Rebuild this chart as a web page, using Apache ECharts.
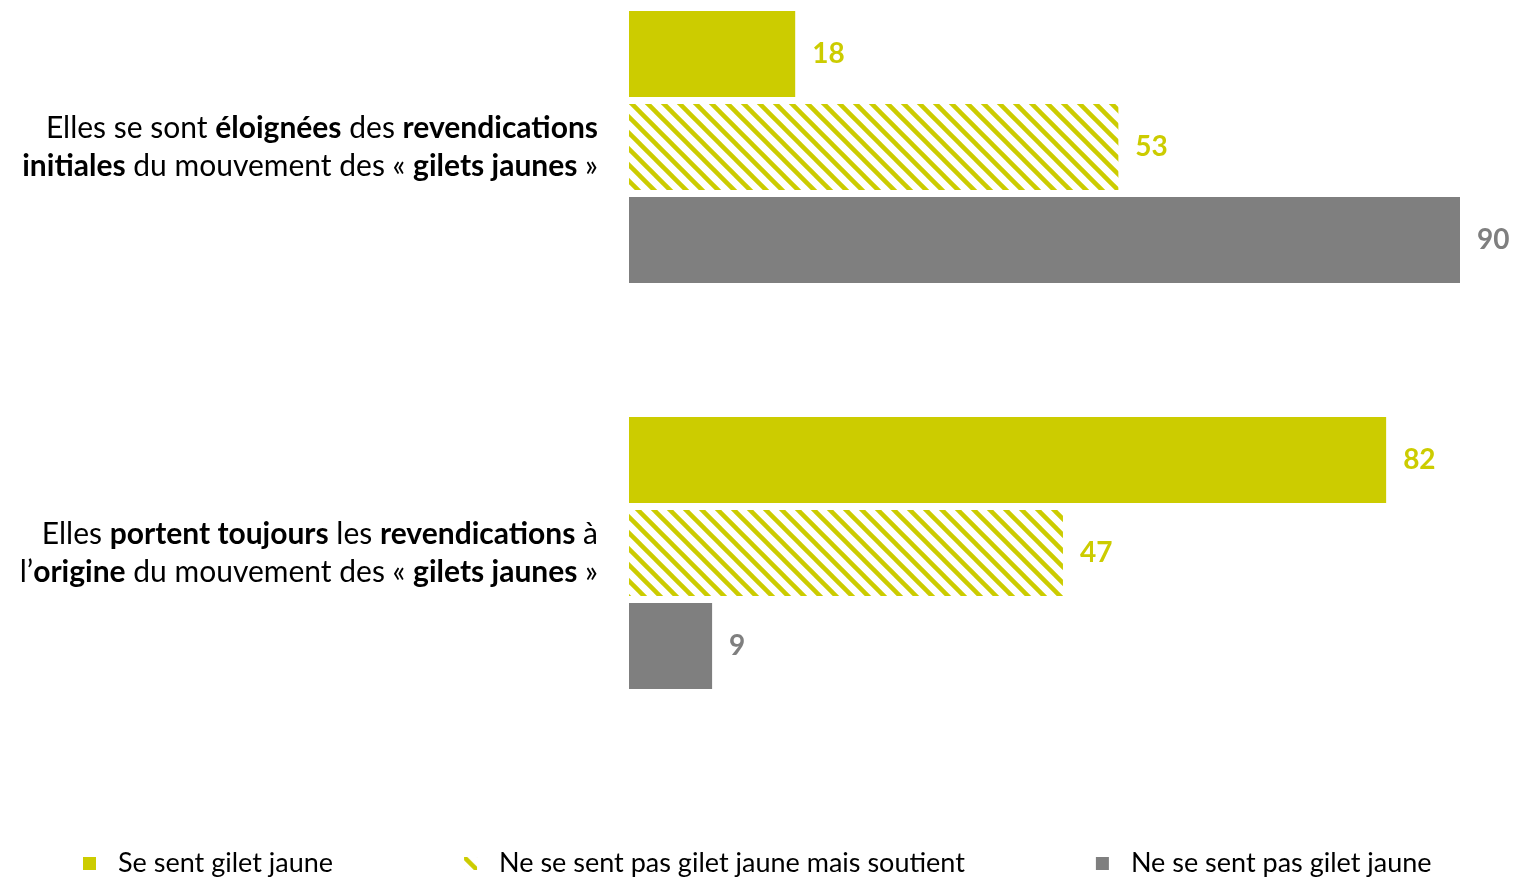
<!DOCTYPE html>
<html><head><meta charset="utf-8">
<script src="https://cdn.jsdelivr.net/npm/echarts@6/dist/echarts.min.js"></script>
<style>html,body{margin:0;padding:0;background:#fff}#c{width:1513px;height:879px}</style>
</head><body><div id="c"></div>
<script>
const categories = [
  "Elles se sont éloignées des revendications initiales du mouvement des « gilets jaunes »",
  "Elles portent toujours les revendications à l’origine du mouvement des « gilets jaunes »"
];
const categoryRich = [
  "{n|Elles se sont }{b|éloignées}{n| des }{b|revendications}\n{b|initiales}{n| du mouvement des « }{b|gilets jaunes}{n| »}",
  "{n|Elles }{b|portent toujours}{n| les }{b|revendications}{n| à}\n{n|l’}{b|origine}{n| du mouvement des « }{b|gilets jaunes}{n| »}"
];
const seriesNames = ["Se sent gilet jaune", "Ne se sent pas gilet jaune mais soutient", "Ne se sent pas gilet jaune"];
const seGiletJaune = [18, 82];
const soutient = [53, 47];
const pasGiletJaune = [90, 9];

const YELLOW = '#cccc00', GREY = '#7f7f7f';
const FONT = 'Lato, "Noto Sans", sans-serif';

function hatch() {
  const c = document.createElement('canvas');
  c.width = 16; c.height = 16;
  const g = c.getContext('2d');
  g.fillStyle = '#fff'; g.fillRect(0, 0, 16, 16);
  g.strokeStyle = YELLOW; g.lineWidth = 4.5;
  for (const k of [-16, 0, 16]) {
    g.beginPath(); g.moveTo(k - 2, -2); g.lineTo(k + 18, 18); g.stroke();
  }
  return c;
}
const hatchPattern = { image: hatch(), repeat: 'repeat' };

const chart = echarts.init(document.getElementById('c'));
const lbl = (color) => ({ show: true, position: 'right', distance: 17, color: color, fontWeight: 'bold', fontSize: 28, fontFamily: FONT });
chart.setOption({
  animation: false,
  grid: { left: 629, right: 53, top: 147, height: 406 },
  xAxis: { type: 'value', min: 0, max: 90, show: false },
  yAxis: {
    type: 'category', inverse: true, data: categories, boundaryGap: false,
    axisLine: { show: false }, axisTick: { show: false }, splitLine: { show: false },
    axisLabel: {
      margin: 31, align: 'right',
      formatter: (v, i) => categoryRich[i],
      rich: {
        n: { fontSize: 30, fontFamily: FONT, color: '#000', lineHeight: 38 },
        b: { fontSize: 30, fontFamily: FONT, color: '#000', fontWeight: 'bold', lineHeight: 38 }
      }
    }
  },
  legend: {
    top: 845, left: 78, itemWidth: 13, itemHeight: 13, itemGap: 131, icon: 'rect',
    textStyle: { fontSize: 27, fontFamily: FONT, color: '#000', padding: [0, 0, 0, 17] },
    data: seriesNames
  },
  series: [
    { name: seriesNames[0], type: 'bar', clip: false, data: seGiletJaune, barWidth: 86, barGap: '8%', itemStyle: { color: YELLOW }, label: lbl(YELLOW) },
    { name: seriesNames[1], type: 'bar', clip: false, data: soutient, barWidth: 86, barGap: '8%', itemStyle: { color: hatchPattern }, label: lbl(YELLOW) },
    { name: seriesNames[2], type: 'bar', clip: false, data: pasGiletJaune, barWidth: 86, barGap: '8%', itemStyle: { color: GREY }, label: lbl(GREY) }
  ]
});
</script></body></html>
